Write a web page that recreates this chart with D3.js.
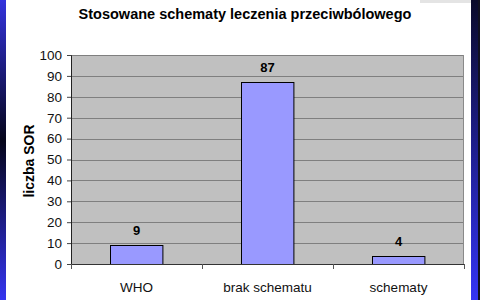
<!DOCTYPE html>
<html lang="pl">
<head>
    <meta charset="UTF-8">
    <title>Stosowane schematy</title>
    <script src="https://d3js.org/d3.v7.min.js"></script>
    <style>
        body { margin: 0; background: #fff; }
        text { font-family: "Liberation Sans", Arial, sans-serif; }
    </style>
</head>
<body>
    <div class="canvas"></div>
    <script>
        const categories = ['WHO', 'brak schematu', 'schematy']
        const values = [9, 87, 4]
        const yTicks = [0, 10, 20, 30, 40, 50, 60, 70, 80, 90, 100]

        const width = 480
        const height = 300
        // plot area
        let [mt, mb, ml, mr] = [55, 36, 71, 16]
        const graphWidth = width - ml - mr
        const graphHeight = height - mt - mb

        const svg = d3.select('.canvas')
                    .append('svg')
                    .attr('width', width)
                    .attr('height', height)

        // blue slide borders
        const defs = svg.append('defs')
        const gl = defs.append('linearGradient').attr('id', 'gl')
                    .attr('x1', 0).attr('x2', 0).attr('y1', 0).attr('y2', 1)
        gl.append('stop').attr('offset', '0%').attr('stop-color', '#3333dd')
        gl.append('stop').attr('offset', '47%').attr('stop-color', '#05051a')
        gl.append('stop').attr('offset', '100%').attr('stop-color', '#3535f0')
        const gr = defs.append('linearGradient').attr('id', 'gr')
                    .attr('x1', 0).attr('x2', 0).attr('y1', 0).attr('y2', 1)
        gr.append('stop').attr('offset', '0%').attr('stop-color', '#0a0a2a')
        gr.append('stop').attr('offset', '100%').attr('stop-color', '#3434f4')

        svg.append('rect').attr('x', 0).attr('y', 0).attr('width', 6).attr('height', height).attr('fill', 'url(#gl)')
        svg.append('rect').attr('x', 471).attr('y', 0).attr('width', 7).attr('height', height).attr('fill', 'url(#gr)')
        svg.append('rect').attr('x', 478).attr('y', 0).attr('width', 2).attr('height', height).attr('fill', '#101020')
        svg.append('rect').attr('x', 420).attr('y', 0).attr('width', 51).attr('height', 3).attr('fill', '#e4e4e4')

        const graph = svg.append('g')
                        .attr('transform', `translate(${ml}, ${mt})`)

        const x = d3.scaleBand()
                    .domain(categories)
                    .range([0, graphWidth])
                    .paddingInner(0.6)
                    .paddingOuter(0.3)

        const xTick = d3.scaleBand()
                    .domain(categories)
                    .range([0, graphWidth])

        const y = d3.scaleLinear()
                    .domain([0, 100])
                    .range([graphHeight, 0])

        graph.append('rect')
            .attr('width', graphWidth)
            .attr('height', graphHeight)
            .attr('fill', '#c0c0c0')

        // gridlines
        graph.selectAll('.grid')
            .data(yTicks.filter(d => d > 0))
            .enter()
            .append('line')
            .attr('x1', 0)
            .attr('x2', graphWidth)
            .attr('y1', d => Math.round(y(d)) + 0.5)
            .attr('y2', d => Math.round(y(d)) + 0.5)
            .attr('stroke', '#7f7f7f')
            .attr('stroke-width', 1.2)

        graph.append('line')
            .attr('x1', graphWidth - 0.5).attr('x2', graphWidth - 0.5)
            .attr('y1', 0).attr('y2', graphHeight)
            .attr('stroke', '#8a8a8a')

        graph.selectAll('.bar')
            .data(values)
            .enter()
            .append('rect')
            .attr('x', (d, i) => Math.round(x(categories[i])) + 0.5)
            .attr('y', d => Math.round(y(d)) + 0.5)
            .attr('width', x.bandwidth())
            .attr('height', d => graphHeight - Math.round(y(d)))
            .attr('fill', '#9999ff')
            .attr('stroke', '#000')
            .attr('stroke-width', 1)

        graph.selectAll('.val')
            .data(values)
            .enter()
            .append('text')
            .attr('x', (d, i) => x(categories[i]) + x.bandwidth() / 2)
            .attr('y', d => y(d) - 10)
            .attr('text-anchor', 'middle')
            .style('font-size', '13px')
            .style('font-weight', 'bold')
            .text(d => d)

        // axes
        const yAxis = d3.axisLeft(y).tickValues(yTicks).tickSize(4).tickPadding(5)
        const yAxisG = graph.append('g').call(yAxis)
        yAxisG.select('.domain').attr('stroke', '#222')
        yAxisG.selectAll('.tick line').attr('stroke', '#444')
        yAxisG.selectAll('text')
            .style('font-size', '13.5px')
            .style('font-family', '"Liberation Sans", Arial, sans-serif')
            .attr('fill', '#111')

        const xAxisG = graph.append('g').attr('transform', `translate(0, ${graphHeight})`)
        xAxisG.append('line')
            .attr('x1', 0).attr('x2', graphWidth)
            .attr('y1', 0.5).attr('y2', 0.5)
            .attr('stroke', '#333')
        xAxisG.selectAll('.xt')
            .data([...categories.map(c => xTick(c)), graphWidth])
            .enter()
            .append('line')
            .attr('x1', d => Math.round(d) + 0.5)
            .attr('x2', d => Math.round(d) + 0.5)
            .attr('y1', 0).attr('y2', 5)
            .attr('stroke', '#555')
        xAxisG.selectAll('.xl')
            .data(categories)
            .enter()
            .append('text')
            .attr('x', d => xTick(d) + xTick.bandwidth() / 2)
            .attr('y', 28)
            .attr('text-anchor', 'middle')
            .style('font-size', '13.5px')
            .attr('fill', '#111')
            .text(d => d)

        svg.append('text')
            .attr('x', 245)
            .attr('y', 19)
            .attr('text-anchor', 'middle')
            .style('font-size', '14.5px')
            .style('font-weight', 'bold')
            .text('Stosowane schematy leczenia przeciwbólowego')

        svg.append('text')
            .attr('transform', 'translate(34, 161) rotate(-90)')
            .attr('text-anchor', 'middle')
            .style('font-size', '14px')
            .style('font-weight', 'bold')
            .text('liczba SOR')
    </script>
</body>
</html>
